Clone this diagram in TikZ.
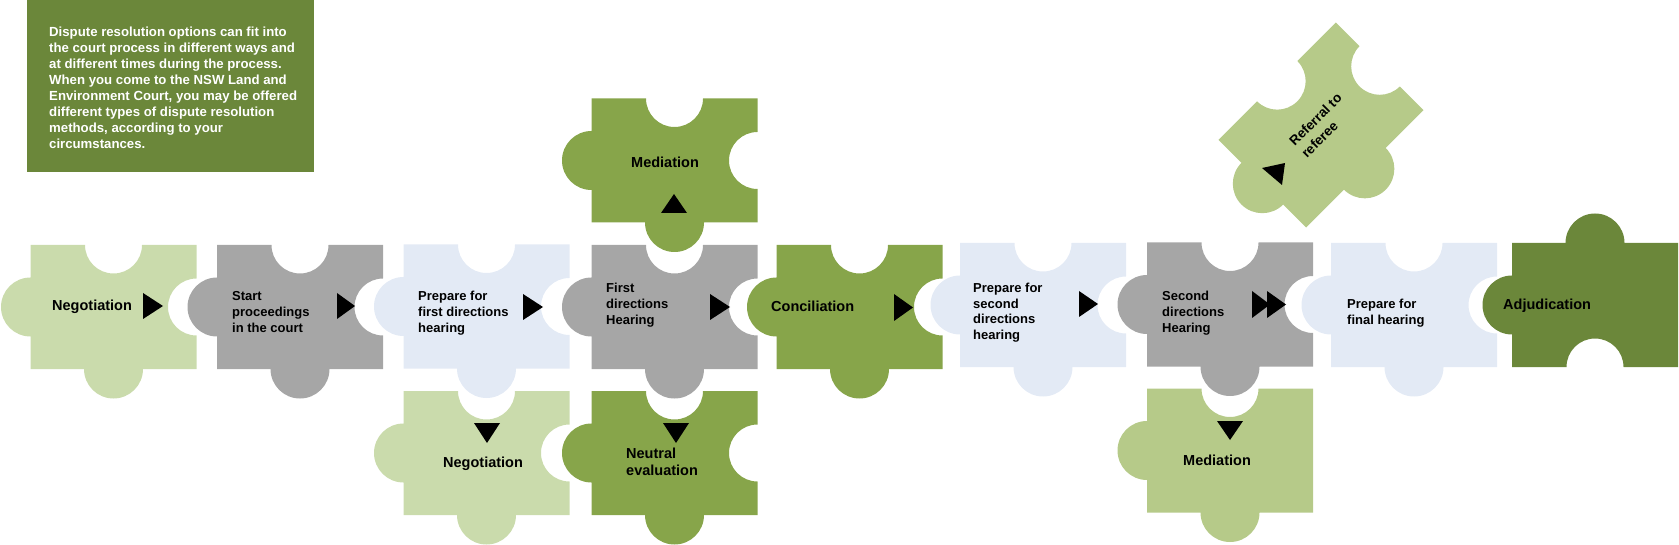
\documentclass[tikz,border=0pt]{standalone}
\usepackage{fontspec}
\setmainfont{Liberation Sans}
\definecolor{lgreen}{HTML}{CADBAC}
\definecolor{olivel}{HTML}{B6CA89}
\definecolor{mgreen}{HTML}{87A54A}
\definecolor{dolive}{HTML}{6B873A}
\definecolor{grayp}{HTML}{A6A6A6}
\definecolor{lblue}{HTML}{E3EAF5}
% puzzle piece geometry (half width, half height, tab radius, notch radius)
\def\pw{83}\def\ph{62}\def\rt{29.5}\def\rn{28.5}
\def\pzTopt{-- (-\rt,\ph) arc[start angle=180,end angle=0,radius=\rt] -- (\pw,\ph)}
\def\pzTopn{-- (-\rn,\ph) arc[start angle=180,end angle=360,radius=\rn] -- (\pw,\ph)}
\def\pzTopf{-- (\pw,\ph)}
\def\pzRightt{-- (\pw,\rt) arc[start angle=90,end angle=-90,radius=\rt] -- (\pw,-\ph)}
\def\pzRightn{-- (\pw,\rn) arc[start angle=90,end angle=270,radius=\rn] -- (\pw,-\ph)}
\def\pzRightf{-- (\pw,-\ph)}
\def\pzBottomt{-- (\rt,-\ph) arc[start angle=0,end angle=-180,radius=\rt] -- (-\pw,-\ph)}
\def\pzBottomn{-- (\rn,-\ph) arc[start angle=0,end angle=180,radius=\rn] -- (-\pw,-\ph)}
\def\pzBottomf{-- (-\pw,-\ph)}
\def\pzLeftt{-- (-\pw,-\rt) arc[start angle=270,end angle=90,radius=\rt] -- cycle}
\def\pzLeftn{-- (-\pw,-\rn) arc[start angle=-90,end angle=90,radius=\rn] -- cycle}
\def\pzLeftf{-- cycle}
\newcommand{\piece}[8][0]{%
  \expandafter\let\expandafter\pzA\csname pzTop#5\endcsname
  \expandafter\let\expandafter\pzB\csname pzRight#6\endcsname
  \expandafter\let\expandafter\pzC\csname pzBottom#7\endcsname
  \expandafter\let\expandafter\pzD\csname pzLeft#8\endcsname
  \begin{scope}[shift={(#3,-#4)},rotate=#1]
    \fill[#2] (-\pw,\ph) \pzA \pzB \pzC \pzD;
  \end{scope}}
\newcommand{\ml}[1]{\begin{tabular}[t]{@{}l@{}}#1\end{tabular}}
\begin{document}
\begin{tikzpicture}[x=1pt,y=1pt,
  lbl/.style={inner sep=0pt,anchor=base west,text=black,font=\fontsize{14.5}{17}\selectfont\bfseries},
  mlbl/.style={inner sep=0pt,anchor=base west,text=black,font=\fontsize{13}{15.7}\selectfont\bfseries},
  desc/.style={inner sep=0pt,anchor=base west,text=white,font=\fontsize{13.2}{15.9}\selectfont\bfseries},
  tri/.style={fill=black}]
\useasboundingbox (0,0) rectangle (1679,-545);
% intro box
\fill[dolive] (27,0) rectangle (314,-172);
\node[desc] (intro) at (49,-37) {\ml{Dispute resolution options can fit into\\the court process in different ways and\\at different times during the process.\\When you come to the NSW Land and\\Environment Court, you may be offered\\different types of dispute resolution\\methods, according to your\\circumstances.}};
% main row
\piece{lgreen}{113.5}{307}{n}{n}{t}{t}
\piece{grayp}{300}{307}{n}{n}{t}{t}
\piece{lblue}{486.5}{306.5}{n}{n}{t}{t}
\piece{grayp}{674.5}{307}{n}{n}{t}{t}
\piece{mgreen}{859.5}{307}{n}{n}{t}{t}
\piece{lblue}{1043}{305}{n}{n}{t}{t}
\piece{grayp}{1230}{304.5}{n}{n}{t}{t}
\piece{lblue}{1414}{305}{n}{n}{t}{t}
\piece{dolive}{1595}{305}{t}{f}{n}{t}
% upper and lower pieces
\piece{mgreen}{674.5}{160.5}{n}{n}{t}{t}
\piece[45]{olivel}{1321}{125}{n}{n}{t}{t}
\piece{lgreen}{486.5}{453}{n}{n}{t}{t}
\piece{mgreen}{674.5}{453}{n}{n}{t}{t}
\piece{olivel}{1230}{450.5}{n}{f}{t}{t}
% labels
\node[lbl] (neg1) at (52,-311) {Negotiation};
\node[mlbl] (start) at (232,-301) {\ml{Start\\proceedings\\in the court}};
\node[mlbl] (prep1) at (418,-301) {\ml{Prepare for\\first directions\\hearing}};
\node[mlbl] (dir1) at (606,-293) {\ml{First\\directions\\Hearing}};
\node[lbl] (med1) at (631,-168) {Mediation};
\node[lbl] (conc) at (771,-311.5) {Conciliation};
\node[mlbl] (prep2) at (973,-292.5) {\ml{Prepare for\\second\\directions\\hearing}};
\node[mlbl] (dir2) at (1162,-301) {\ml{Second\\directions\\Hearing}};
\node[mlbl,font=\fontsize{13}{16.5}\selectfont\bfseries] (prep3) at (1347,-308.5) {\ml{Prepare for\\final hearing}};
\node[lbl] (adj) at (1503,-310) {Adjudication};
\node[lbl] (neg2) at (443,-467) {Negotiation};
\node[lbl] (neut) at (626,-458.7) {\ml{Neutral\\evaluation}};
\node[lbl] (med2) at (1183,-465.7) {Mediation};
\begin{scope}[shift={(1321,-125)},rotate=45]
  \node[mlbl,transform shape,font=\fontsize{13.5}{17}\selectfont\bfseries] (ref) at (-34,3) {\ml{Referral to\\referee}};
\end{scope}
% arrow triangles
\fill[tri] (143,-293) -- (143,-319) -- (163,-306) -- cycle;
\fill[tri] (337,-293) -- (337,-319) -- (355,-306) -- cycle;
\fill[tri] (523,-294) -- (523,-320) -- (543,-307) -- cycle;
\fill[tri] (710,-294) -- (710,-320) -- (730,-307) -- cycle;
\fill[tri] (661,-213) -- (687,-213) -- (674,-194) -- cycle;
\fill[tri] (474,-423) -- (500,-423) -- (487,-443) -- cycle;
\fill[tri] (663,-423) -- (689,-423) -- (676,-443) -- cycle;
\fill[tri] (894,-294) -- (894,-321) -- (913,-307.5) -- cycle;
\fill[tri] (1079,-291) -- (1079,-317) -- (1098,-304) -- cycle;
\fill[tri] (1252,-291) -- (1252,-318) -- (1270,-304.5) -- cycle;
\fill[tri] (1267,-291) -- (1267,-318) -- (1286,-304.5) -- cycle;
\fill[tri] (1217,-421) -- (1243,-421) -- (1230,-440) -- cycle;
\fill[tri] (1262,-168) -- (1282,-185) -- (1285,-163) -- cycle;
\end{tikzpicture}
\end{document}
